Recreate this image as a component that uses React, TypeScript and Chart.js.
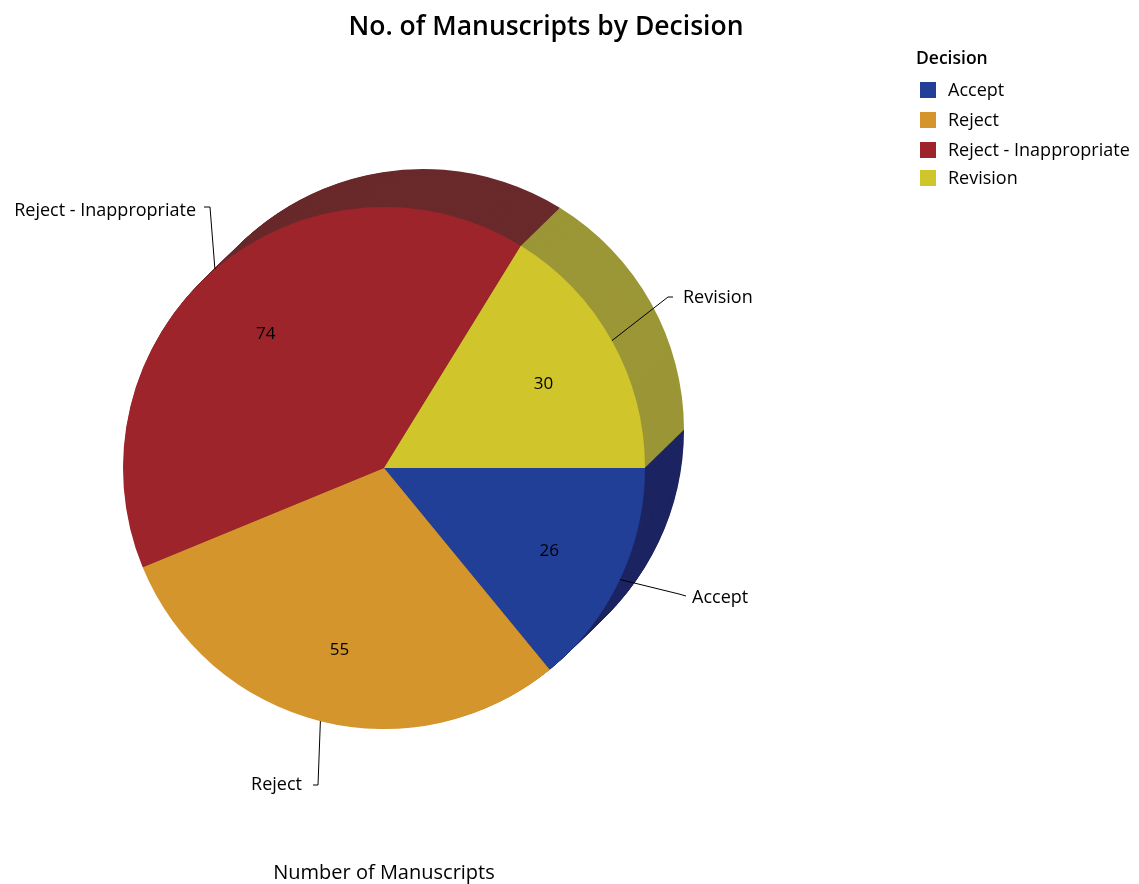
import React, { useEffect, useRef } from "react";
import { Chart, registerables } from "chart.js";

Chart.register(...registerables);

const categories = ["Accept", "Reject", "Reject - Inappropriate", "Revision"];
const counts = [26, 55, 74, 30];
const colors = ["#213f97", "#d4952c", "#9d242b", "#d0c52a"];
const shadowColors = ["#1d2462", "#8c6320", "#6a2a2b", "#9b9636"];
const chartTitle = "No. of Manuscripts by Decision";
const legendTitle = "Decision";
const axisTitle = "Number of Manuscripts";

const FONT = "'Open Sans', 'Noto Sans', sans-serif";
const OX = 8; // canvas offset in page
const OY = 8;

// label layout (page coordinates)
const leaderLayout: Record<string, { pts: [number, number][]; tx: number; ty: number; align: CanvasTextAlign }> = {
  Accept: { pts: [[679, 594], [686, 596]], tx: 692, ty: 598, align: "left" },
  Reject: { pts: [[318, 785], [313, 785]], tx: 302, ty: 785, align: "right" },
  "Reject - Inappropriate": { pts: [[210, 207], [204, 207]], tx: 196, ty: 211, align: "right" },
  Revision: { pts: [[668, 297], [673, 297]], tx: 683, ty: 298, align: "left" },
};

const SHADOW_DX = 39;
const SHADOW_DY = -38;

const shadowPlugin = {
  id: "shadow3d",
  beforeDatasetsDraw(chart: any) {
    const ctx = chart.ctx;
    const meta = chart.getDatasetMeta(0);
    const steps = 60;
    ctx.save();
    for (let s = steps; s >= 1; s--) {
      const dx = (SHADOW_DX * s) / steps;
      const dy = (SHADOW_DY * s) / steps;
      meta.data.forEach((arc: any, i: number) => {
        const { x, y, startAngle, endAngle, outerRadius } = arc.getProps(
          ["x", "y", "startAngle", "endAngle", "outerRadius"],
          true
        );
        ctx.beginPath();
        ctx.moveTo(x + dx, y + dy);
        ctx.arc(x + dx, y + dy, outerRadius, startAngle, endAngle);
        ctx.closePath();
        ctx.fillStyle = shadowColors[i];
        ctx.fill();
      });
    }
    ctx.restore();
  },
};

const labelPlugin = {
  id: "labels",
  afterDatasetsDraw(chart: any) {
    const ctx = chart.ctx;
    const meta = chart.getDatasetMeta(0);
    ctx.save();
    meta.data.forEach((arc: any, i: number) => {
      const { x, y, startAngle, endAngle, outerRadius } = arc.getProps(
        ["x", "y", "startAngle", "endAngle", "outerRadius"],
        true
      );
      const mid = (startAngle + endAngle) / 2;
      // value label
      ctx.fillStyle = "#000";
      ctx.font = `17px ${FONT}`;
      ctx.textAlign = "center";
      ctx.textBaseline = "middle";
      const r = outerRadius * 0.7;
      ctx.fillText(String(counts[i]), x + Math.cos(mid) * r, y + Math.sin(mid) * r + 5);

      // leader line
      const lay = leaderLayout[categories[i]];
      const sx = x + Math.cos(mid) * outerRadius;
      const sy = y + Math.sin(mid) * outerRadius;
      ctx.beginPath();
      ctx.moveTo(sx, sy);
      lay.pts.forEach(([px, py]) => ctx.lineTo(px - OX, py - OY));
      ctx.strokeStyle = "#000";
      ctx.lineWidth = 1;
      ctx.stroke();
      ctx.font = `18px ${FONT}`;
      ctx.textAlign = lay.align;
      ctx.fillText(categories[i], lay.tx - OX, lay.ty - OY);
    });

    // title
    ctx.fillStyle = "#000";
    ctx.font = `600 26.5px ${FONT}`;
    ctx.textAlign = "center";
    ctx.textBaseline = "middle";
    ctx.fillText(chartTitle, 546 - OX, 27 - OY);

    // axis title
    ctx.font = `20px ${FONT}`;
    ctx.fillText(axisTitle, 384 - OX, 873 - OY);

    // legend
    ctx.textAlign = "left";
    ctx.font = `600 17.5px ${FONT}`;
    ctx.fillText(legendTitle, 916 - OX, 59 - OY);
    const rows = [90, 120, 150, 178];
    ctx.font = `18px ${FONT}`;
    categories.forEach((c, i) => {
      ctx.fillStyle = colors[i];
      ctx.fillRect(920 - OX, rows[i] - 8 - OY, 16, 16);
      ctx.fillStyle = "#000";
      ctx.fillText(c, 948 - OX, rows[i] + 1 - OY);
    });
    ctx.restore();
  },
};

export default function App() {
  const ref = useRef<HTMLCanvasElement>(null);
  useEffect(() => {
    if (!ref.current) return;
    const W = 1123;
    const H = 876;
    const cx = 384 - OX;
    const cy = 468 - OY;
    const R = 261;
    const chart = new Chart(ref.current, {
      type: "pie",
      data: {
        labels: categories,
        datasets: [
          {
            data: counts,
            backgroundColor: colors,
            borderWidth: 0,
            hoverOffset: 0,
            offset: 0,
          },
        ],
      },
      options: {
        responsive: false,
        animation: false,
        rotation: 90,
        radius: R,
        layout: {
          padding: { left: cx - R, right: W - (cx + R), top: cy - R, bottom: H - (cy + R) },
        },
        plugins: {
          legend: { display: false },
          title: { display: false },
          tooltip: { enabled: false },
        },
      },
      plugins: [shadowPlugin, labelPlugin],
    });
    return () => chart.destroy();
  }, []);
  return <canvas ref={ref} width={1123} height={876} style={{ display: "block" }} />;
}
